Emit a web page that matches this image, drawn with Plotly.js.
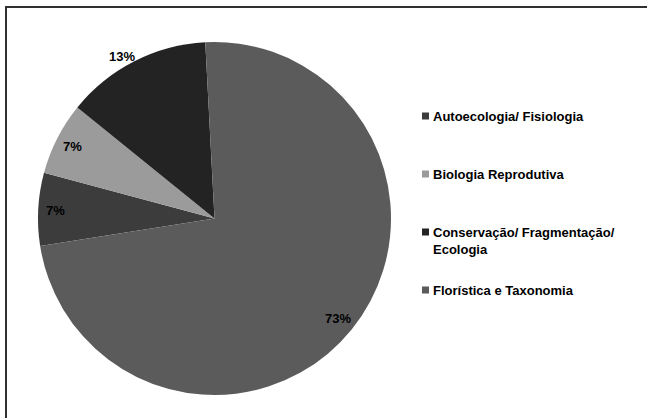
<!DOCTYPE html>
<html>
<head>
<meta charset="utf-8">
<script src="https://cdn.plot.ly/plotly-3.0.1.min.js"></script>
<style>
  html, body { margin: 0; padding: 0; background: #fff; }
  #chart { width: 647px; height: 418px; }
</style>
</head>
<body>
<div id="chart"></div>
<script>
// Studies per research area
const categories = [
  'Autoecologia/ Fisiologia',
  'Biologia Reprodutiva',
  'Conservação/ Fragmentação/ Ecologia',
  'Florística e Taxonomia'
];
const legendLabels = [
  'Autoecologia/ Fisiologia',
  'Biologia Reprodutiva',
  'Conservação/ Fragmentação/<br>Ecologia',
  'Florística e Taxonomia'
];
const studies = [3, 3, 6, 33];
const sliceColors = ['#3c3c3c', '#9b9b9b', '#232323', '#5b5b5b'];
const textPlacement = ['inside', 'inside', 'outside', 'inside'];

// ---- layout constants (pixels) ----
const W = 647, H = 418;
const pieBox = { left: 38, right: 391, top: 41, bottom: 396 };
const startAngle = -99;          // degrees, clockwise from 12 o'clock
const insideRadius = 0.9;        // label distance as a fraction of the radius
const outsideRadius = 0.97;      // corner of an outside label sits near the rim
const legendX = 422, legendRow0 = 116, legendStep = 58, swatch = 7;
const FONT = 'Liberation Sans, Arial, sans-serif';

const px = x => x / W;
const py = y => 1 - y / H;

const total = studies.reduce((a, b) => a + b, 0);
const cx = (pieBox.left + pieBox.right) / 2;
const cy = (pieBox.top + pieBox.bottom) / 2;
const R = Math.min(pieBox.right - pieBox.left, pieBox.bottom - pieBox.top) / 2;

const annotations = [];
const shapes = [];

// percentage labels, placed at each slice's mid angle
let acc = 0;
studies.forEach((v, i) => {
  const mid = (startAngle + (acc + v / 2) / total * 360) * Math.PI / 180;
  acc += v;
  const s = Math.sin(mid), c = Math.cos(mid);
  const label = {
    xref: 'paper', yref: 'paper',
    text: Math.round(v / total * 100) + '%',
    showarrow: false,
    font: { family: FONT, size: 13, color: '#000', weight: 'bold' }
  };
  if (textPlacement[i] === 'outside') {
    label.x = px(cx + R * outsideRadius * s);
    label.y = py(cy - R * outsideRadius * c);
    label.xanchor = s < 0 ? 'right' : 'left';
    label.yanchor = c > 0 ? 'bottom' : 'top';
  } else {
    label.x = px(cx + R * insideRadius * s);
    label.y = py(cy - R * insideRadius * c);
    label.xanchor = 'center';
    label.yanchor = 'middle';
  }
  annotations.push(label);
});

// legend: swatch + text per category
legendLabels.forEach((name, i) => {
  const rowY = legendRow0 + i * legendStep;
  shapes.push({
    type: 'rect', xref: 'paper', yref: 'paper',
    x0: px(legendX), x1: px(legendX + swatch),
    y0: py(rowY - swatch / 2), y1: py(rowY + swatch / 2),
    fillcolor: sliceColors[i], line: { width: 0 }
  });
  annotations.push({
    xref: 'paper', yref: 'paper',
    x: px(legendX + swatch + 2), y: py(rowY - 9.5),
    xanchor: 'left', yanchor: 'top', align: 'left',
    text: name, showarrow: false,
    font: { family: FONT, size: 13, color: '#000', weight: 'bold' }
  });
});

// chart frame (top and left edges visible)
shapes.push({
  type: 'rect', xref: 'paper', yref: 'paper',
  x0: px(6), x1: 1.05, y0: -0.05, y1: py(7),
  line: { color: '#303030', width: 2 }, fillcolor: 'rgba(0,0,0,0)'
});

const data = [{
  type: 'pie',
  labels: categories,
  values: studies,
  sort: false,
  direction: 'clockwise',
  rotation: startAngle,
  marker: { colors: sliceColors, line: { width: 0 } },
  textinfo: 'none',
  hoverinfo: 'label+value+percent',
  showlegend: false,
  domain: { x: [px(pieBox.left), px(pieBox.right)], y: [py(pieBox.bottom), py(pieBox.top)] }
}];

const layout = {
  width: W, height: H,
  margin: { l: 0, r: 0, t: 0, b: 0 },
  paper_bgcolor: '#ffffff',
  showlegend: false,
  annotations: annotations,
  shapes: shapes
};

Plotly.newPlot('chart', data, layout, { displayModeBar: false, staticPlot: true });
</script>
</body>
</html>
